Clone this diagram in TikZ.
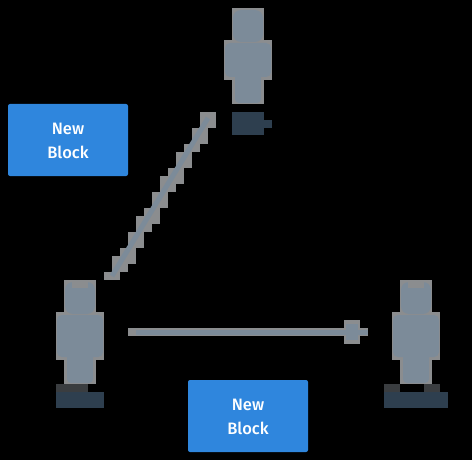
\documentclass[tikz,border=0pt]{standalone}
\usepackage{fontspec}
\setmainfont{Fira Sans}[BoldFont={Fira Sans Medium}]
\definecolor{edgegray}{HTML}{8B8D8F}
\definecolor{bodyblue}{HTML}{7C8B99}
\definecolor{boxblue}{HTML}{2F86DD}
\definecolor{labeltop}{HTML}{3A3D40}
\definecolor{labelbody}{HTML}{2E3F4F}
\tikzset{
  x=1pt,y=-1pt,
  blockbox/.style={fill=boxblue,rounded corners=2pt,minimum width=120pt,minimum height=72pt,inner sep=0pt},
  blocktext/.style={inner sep=0pt,align=center,text=white,font=\fontsize{16.5}{24}\selectfont\bfseries},
  px/.style={fill=edgegray},
  inner/.style={fill=bodyblue},
  wire/.style={draw=bodyblue,line width=5pt}
}
% #1 torso left x, #2 torso top y, #3 torso height, #4 leg height
\newcommand{\figbody}[4]{%
  \begin{scope}[shift={(#1,#2)}]
    \fill[px] (8,-32) rectangle (40,0);
    \fill[px] (0,0) rectangle (48,#3);
    \fill[px] (8,#3) rectangle (40,#3+#4);
    \fill[inner,rounded corners=8pt] (9,-30) rectangle (39,2);
    \fill[inner,rounded corners=5pt] (1,3) rectangle (47,#3-3);
    \fill[inner,rounded corners=4pt] (11,#3-10) rectangle (37,#3+#4-1);
  \end{scope}}
\begin{document}
\begin{tikzpicture}
\useasboundingbox (0,0) rectangle (472,460);
\fill[black] (0,0) rectangle (472,460);
% figures
\figbody{224}{40}{40}{24}
\figbody{56}{312}{48}{24}
\fill[px] (72,280) rectangle (88,288);
\figbody{392}{312}{48}{24}
\fill[px] (408,280) rectangle (424,288);
% label areas, pixelated beyond reading in the reference
\fill[labelbody] (232,112) rectangle (264,135);
\fill[labelbody] (264,120) rectangle (272,128);
\fill[labeltop] (56,384) rectangle (88,392);
\fill[labelbody] (56,392) rectangle (104,408);
\fill[labeltop] (384,384) rectangle (400,392);
\fill[labeltop] (424,384) rectangle (440,392);
\fill[labelbody] (384,392) rectangle (448,408);
% blocks
\node[blockbox] (blockA) at (68,140) {};
\node[blocktext] (blockAtext) at (68,141) {New\\Block};
\node[blockbox] (blockB) at (248,416) {};
\node[blocktext] (blockBtext) at (248,417) {New\\Block};
% connector endpoints
\coordinate (diagStart) at (112,276);
\coordinate (diagEnd) at (208,118);
\coordinate (horizStart) at (136,332);
\coordinate (horizEnd) at (368,332);
% diagonal staircase
\foreach \xa/\ya/\xb/\yb in {200/112/216/128,192/128/208/144,184/144/200/152,176/152/192/168,168/168/184/184,160/176/176/192,152/192/168/208,144/208/160/224,136/216/152/232,128/232/144/248,120/248/136/264,112/256/128/272,104/272/120/280}
  \fill[px] (\xa,\ya) rectangle (\xb,\yb);
\draw[wire] (diagStart) -- (diagEnd);
% horizontal
\fill[px] (128,328) rectangle (368,336);
\fill[px] (344,320) rectangle (360,344);
\draw[wire] (horizStart) -- (horizEnd);
\fill[bodyblue] (346,324) rectangle (358,340);
\end{tikzpicture}
\end{document}
